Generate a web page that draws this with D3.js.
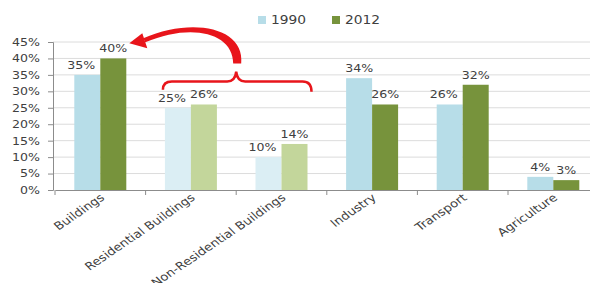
<!DOCTYPE html>
<html>
<head>
<meta charset="utf-8">
<script src="https://cdn.jsdelivr.net/npm/d3@7"></script>
<style>
  body { margin: 0; background: #fff; }
  svg text { font-family: "DejaVu Sans", Verdana, sans-serif; fill: #404040; }
</style>
</head>
<body>
<div id="chart-area"></div>
<script>
/*
*    emissions by sector, 1990 vs 2012
*/

var categories = ["Buildings", "Residential Buildings", "Non-Residential Buildings", "Industry", "Transport", "Agriculture"];
var series = ["1990", "2012"];
var values1990 = [35, 25, 10, 34, 26, 4];
var values2012 = [40, 26, 14, 26, 32, 3];
var yTicks = [0, 5, 10, 15, 20, 25, 30, 35, 40, 45];
var subCategories = ["Residential Buildings", "Non-Residential Buildings"];

var width = 590, height = 283;
var colors = {"1990": "#b7dde8", "2012": "#77933c"};
var paleColors = {"1990": "#dbeef4", "2012": "#c3d69b"};
var red = "#e8151b";
var stretch = 1.2;   // the original text is a bit wide

var svg = d3.select("#chart-area")
    .append("svg")
    .attr("width", width)
    .attr("height", height);

var x0 = d3.scaleBand()
    .domain(categories)
    .range([55, 598.6]);

var bw = x0.bandwidth();
var x1 = d3.scaleBand()
    .domain(series)
    .range([bw / 2 - 26, bw / 2 + 26]);

var y = d3.scaleLinear()
    .domain([0, 45])
    .range([190, 42]);

// gridlines
svg.append("g").selectAll("line")
    .data(yTicks.slice(1))
    .enter().append("line")
        .attr("x1", 53).attr("x2", width)
        .attr("y1", (d) => y(d)).attr("y2", (d) => y(d))
        .attr("stroke", "#dcdcdc")
        .attr("stroke-width", 1);

// y axis
var yAxis = d3.axisLeft(y)
    .tickValues(yTicks)
    .tickFormat((d) => d + "%")
    .tickSize(5)
    .tickPadding(0);
var yg = svg.append("g")
    .attr("transform", "translate(53,0)")
    .call(yAxis);
yg.select(".domain").attr("stroke", "#8c8c8c");
yg.selectAll(".tick line").attr("stroke", "#8c8c8c");
yg.selectAll(".tick text")
    .attr("x", null)
    .attr("transform", "translate(-13,0) scale(" + stretch + ",1)")
    .style("font-size", "10.5px")
    .attr("fill", "#404040");

// x axis
var xAxis = d3.axisBottom(x0).tickSize(0).tickFormat("");
var xg = svg.append("g")
    .attr("transform", "translate(0,190)")
    .call(xAxis);
xg.select(".domain").attr("stroke", "#8c8c8c");

// category boundary ticks
svg.append("g").selectAll("line")
    .data(categories)
    .enter().append("line")
        .attr("x1", (d) => x0(d)).attr("x2", (d) => x0(d))
        .attr("y1", 190).attr("y2", 195)
        .attr("stroke", "#8c8c8c");

// x labels
svg.append("g").selectAll("text")
    .data(categories)
    .enter().append("text")
        .attr("transform", (d) => "translate(" + (x0(d) + bw / 2 + 5) + ",199) scale(" + stretch + ",1) rotate(-39)")
        .attr("text-anchor", "end")
        .style("font-size", "11px")
        .text((d) => d);

// bars
var rows = categories.map((c, i) => ({cat: c, vals: [
    {key: "1990", v: values1990[i], other: values2012[i]},
    {key: "2012", v: values2012[i], other: values1990[i]}
]}));

var groups = svg.selectAll(".grp")
    .data(rows)
    .enter().append("g")
        .attr("class", "grp")
        .attr("transform", (d) => "translate(" + x0(d.cat) + ",0)");

groups.selectAll("rect")
    .data((d) => d.vals.map((s) => ({cat: d.cat, key: s.key, v: s.v})))
    .enter().append("rect")
        .attr("x", (d) => x1(d.key))
        .attr("y", (d) => y(d.v))
        .attr("width", x1.bandwidth())
        .attr("height", (d) => y(0) - y(d.v))
        .attr("fill", (d) => subCategories.indexOf(d.cat) >= 0 ? paleColors[d.key] : colors[d.key]);

// nudge the 1990 label left when it would bump into its neighbour
var nudge = (d) => (d.key == "1990" && d.v >= 10 && Math.abs(d.v - d.other) < 7) ? -6 : 0;

groups.selectAll("text")
    .data((d) => d.vals)
    .enter().append("text")
        .attr("transform", (d) => "translate(" + (x1(d.key) + x1.bandwidth() / 2 + nudge(d)) + "," + (y(d.v) - 6) + ") scale(" + stretch + ",1)")
        .attr("text-anchor", "middle")
        .style("font-size", "10.5px")
        .text((d) => d.v + "%");

// legend
var legend = svg.append("g").attr("transform", "translate(258,14)");
var legX = {"1990": 0, "2012": 74};
series.forEach((s) => {
    var g = legend.append("g").attr("transform", "translate(" + legX[s] + ",0)");
    g.append("rect").attr("width", 8).attr("height", 8).attr("y", 2).attr("fill", colors[s]);
    g.append("text")
        .attr("transform", "translate(13,10) scale(1.15,1)")
        .style("font-size", "12px")
        .text(s);
});

// brace over residential + non-residential
var bL = x0("Residential Buildings") + bw / 2 - 28;
var bR = x0("Non-Residential Buildings") + bw / 2 + 30;
var bM = x0("Non-Residential Buildings");
var bTop = y(36), bMid = y(33), bEnd = y(30.5);
var brace = d3.path();
brace.moveTo(bL, bEnd);
brace.quadraticCurveTo(bL, bMid, bL + 9, bMid);
brace.lineTo(bM - 9, bMid);
brace.quadraticCurveTo(bM - 1, bMid, bM, bTop);
brace.quadraticCurveTo(bM + 1, bMid, bM + 9, bMid);
brace.lineTo(bR - 9, bMid);
brace.quadraticCurveTo(bR, bMid, bR, bEnd + 2);
svg.append("path")
    .attr("d", brace.toString())
    .attr("fill", "none")
    .attr("stroke", red)
    .attr("stroke-width", 2.5);

// curved arrow back to Buildings
var tip = [x0("Buildings") + x1("2012") + x1.bandwidth() + 3, y(44.6)];
var arrow = d3.path();
arrow.moveTo(bM + 5, bTop - 8);
arrow.bezierCurveTo(bM + 9, 27, bM - 45, 17, tip[0] + 14, tip[1] - 5);
arrow.lineTo(tip[0] + 16, tip[1] - 1);
arrow.bezierCurveTo(bM - 46, 23, bM - 3, 32, bM - 3, bTop - 8);
arrow.closePath();
svg.append("path").attr("d", arrow.toString()).attr("fill", red);

svg.append("path")
    .attr("d", "M" + tip[0] + "," + tip[1] +
        "L" + (tip[0] + 13) + "," + (tip[1] - 10) +
        "L" + (tip[0] + 18) + "," + (tip[1] + 5) + "Z")
    .attr("fill", red);
</script>
</body>
</html>
